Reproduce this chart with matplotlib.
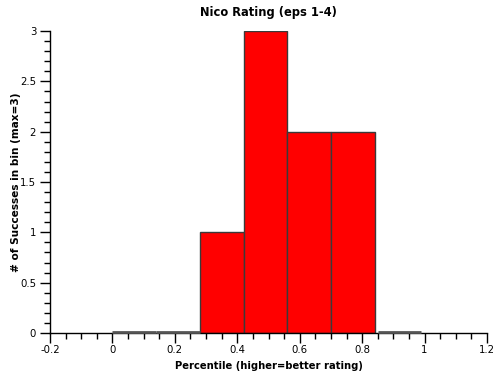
import matplotlib
matplotlib.use("Agg")
import matplotlib.pyplot as plt
from matplotlib.ticker import MultipleLocator, FuncFormatter

bin_left = [0.0, 0.14, 0.28, 0.42, 0.56, 0.70, 0.85]
bin_width = 0.14
counts = [0, 0, 1, 3, 2, 2, 0]
title = "Nico Rating (eps 1-4)"
xlabel = "Percentile (higher=better rating)"
ylabel = "# of Successes in bin (max=3)"

plt.rcParams['font.family'] = ['DejaVu Sans']
fig = plt.figure(figsize=(5, 3.8), dpi=100)
ax = fig.add_axes([0.1, 0.1237, 0.874, 0.7945])

for l, c in zip(bin_left, counts):
    if c == 0:
        ax.plot([l, l + bin_width], [0.005, 0.005], color='#555555', lw=2,
                solid_capstyle='butt', zorder=3, clip_on=False)
    else:
        ax.bar(l, c, width=bin_width, align='edge', color='#ff0000',
               edgecolor='#3a3a3a', linewidth=1, zorder=2)

ax.set_xlim(-0.2, 1.2)
ax.set_ylim(0, 3)
ax.xaxis.set_major_locator(MultipleLocator(0.2))
ax.xaxis.set_minor_locator(MultipleLocator(0.05))
ax.yaxis.set_major_locator(MultipleLocator(0.5))
ax.yaxis.set_minor_locator(MultipleLocator(0.1))
fmt = FuncFormatter(lambda v, p: ('%g' % round(v, 2)))
ax.xaxis.set_major_formatter(fmt)
ax.yaxis.set_major_formatter(fmt)

for s in ['top', 'right']:
    ax.spines[s].set_visible(False)
for s in ['left', 'bottom']:
    ax.spines[s].set_linewidth(1)
    ax.spines[s].set_color('black')

ax.tick_params(axis='both', which='major', length=7, width=1, labelsize=7.3,
               direction='out', color='black')
ax.tick_params(axis='both', which='minor', length=4, width=1, direction='out')
ax.tick_params(axis='y', which='major', pad=3)
ax.tick_params(axis='x', which='major', pad=2)

ax.set_title(title, fontsize=8.3, fontweight='bold', pad=11)
ax.set_xlabel(xlabel, fontsize=7.2, fontweight='bold')
ax.set_ylabel(ylabel, fontsize=7.6, fontweight='bold')
ax.yaxis.set_label_coords(-0.077, 0.5)
ax.xaxis.set_label_coords(0.5, -0.109)
ax.xaxis.label.set_va('center')
ax.yaxis.label.set_va('center')

fig.savefig("out.png", dpi=100)
